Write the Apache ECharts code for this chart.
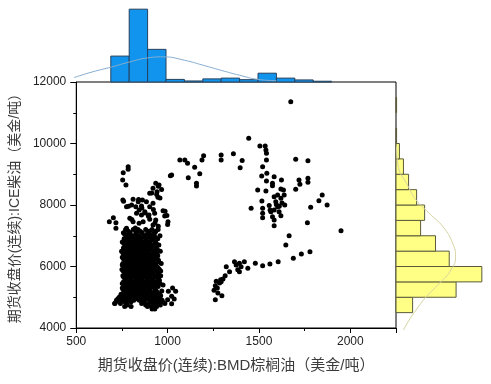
<!DOCTYPE html>
<html>
<head>
<meta charset="utf-8">
<script src="https://cdn.jsdelivr.net/npm/echarts@6/dist/echarts.min.js"></script>
<style>
html,body{margin:0;padding:0;background:#fff;}
#main{width:491px;height:384px;}
</style>
</head>
<body>
<div id="main"></div>
<script>
// ---------- data ----------
const xTicks = [500, 1000, 1500, 2000];
const yTicks = [4000, 6000, 8000, 10000, 12000];

// top histogram (BMD palm oil), bin width 100
const topBinWidth = 100;
const topBinStart = [700, 800, 900, 1000, 1100, 1200, 1300, 1400, 1500, 1600, 1700, 1800];
const topCounts   = [100, 281, 126, 10, 4, 12, 15, 9, 34, 15, 8, 3];
// fitted curve
const topCurveX = [500, 600, 705, 800, 900, 985, 1100, 1200, 1300, 1400, 1500, 1600];
const topCurveY = [17, 39, 58, 77, 93, 97, 84, 65, 45, 26, 10, 5];

// right histogram (ICE gasoil), bin width 500
const rightBinWidth = 500;
const rightBinStart = [4500, 5000, 5500, 6000, 6500, 7000, 7500, 8000, 8500, 9000, 9500, 10000, 11000];
const rightCounts   = [29, 105, 150, 93, 69, 43, 50, 36, 22, 13, 6, 1, 1];
const rightCurveY = [9900, 9356, 8543, 8163, 7730, 7294, 6754, 6319, 5886, 5454, 5018, 4585, 4260, 3935];
const rightCurveX = [1, 3, 23, 35, 58, 82, 99, 104, 96, 76, 53, 35, 23, 13];

// scatter: dense lower cluster rows [y, xs]
const clusterRows = [
  [7200, [770, 812, 838, 880, 915, 948]],
  [7150, [785, 850, 900, 935]],
  [7100, [758, 795, 826, 861, 893, 930]],
  [7050, [765, 790, 830, 888, 920]],
  [7000, [775, 808, 845, 872, 905, 958]],
  [6950, [780, 808, 836, 866, 900, 932]],
  [6900, [762, 790, 822, 850, 884, 920, 946]],
  [6850, [766, 796, 826, 854, 882, 912]],
  [6800, [752, 780, 812, 838, 868, 897, 933]],
  [6750, [760, 786, 815, 845, 874, 904, 938]],
  [6700, [768, 800, 829, 857, 890, 915, 952]],
  [6650, [772, 802, 832, 860, 888, 920]],
  [6600, [758, 786, 815, 846, 874, 903, 938]],
  [6550, [762, 790, 820, 848, 876, 910, 944]],
  [6500, [748, 774, 804, 833, 862, 888, 925, 960]],
  [6450, [755, 778, 806, 835, 864, 895, 928]],
  [6400, [762, 792, 820, 850, 878, 910, 942]],
  [6350, [768, 795, 824, 852, 882, 912, 946]],
  [6300, [752, 780, 808, 838, 866, 896, 928]],
  [6250, [758, 786, 815, 844, 872, 902, 935]],
  [6200, [768, 796, 826, 855, 884, 915, 950]],
  [6150, [770, 798, 828, 856, 886, 918, 952]],
  [6100, [755, 784, 812, 842, 870, 900, 935, 965]],
  [6050, [752, 776, 805, 834, 862, 892, 922]],
  [6000, [762, 790, 820, 848, 878, 906, 940]],
  [5950, [768, 796, 826, 855, 884, 915, 948]],
  [5900, [750, 778, 805, 835, 864, 892, 925, 955]],
  [5850, [757, 786, 814, 842, 872, 900, 932, 962]],
  [5800, [764, 795, 824, 852, 880, 912, 945]],
  [5750, [770, 800, 830, 860, 888, 918, 950]],
  [5700, [755, 783, 812, 840, 870, 900, 930, 962]],
  [5650, [760, 788, 818, 846, 876, 906, 938]],
  [5600, [768, 798, 828, 856, 886, 916, 948]],
  [5550, [772, 802, 830, 858, 890, 920, 955]],
  [5500, [758, 786, 815, 844, 872, 903, 935]],
  [5450, [752, 780, 808, 836, 866, 895, 925, 958]],
  [5400, [765, 792, 822, 850, 880, 910, 942, 975]],
  [5350, [766, 795, 825, 852, 882, 914, 948]],
  [5300, [752, 780, 808, 838, 866, 896, 928]],
  [5250, [756, 784, 812, 842, 870, 900, 932]],
  [5200, [762, 790, 818, 848, 876, 905, 938, 968]],
  [5150, [768, 798, 826, 856, 886, 914, 945]],
  [5100, [745, 775, 803, 832, 862, 892, 922, 955]],
  [5050, [750, 782, 810, 840, 868, 898, 930, 962]],
  [5000, [735, 765, 795, 825, 852, 882, 912, 945]],
  [4950, [728, 760, 790, 830, 862, 890, 920, 952]],
  [4900, [720, 752, 782, 815, 845, 875, 905, 935, 970]],
  [4850, [736, 766, 800, 870, 910, 942, 970]],
  [4800, [710, 742, 775, 858, 895, 925, 955, 985]],
  [4750, [780, 880, 925, 960]],
  [4700, [765, 800, 890, 912, 940]],
  [4620, [915, 930]]
];
const upperClusterPts = [
  [784,9246],[784,9161],[757,9051],[754,8813],[772,8650],[1015,8953],[935,8706],[953,8650],
  [920,8543],[942,8433],[902,8380],[947,8250],[755,8163],[811,8186],[839,8108],[862,8163],
  [884,8108],[803,8000],[775,7945],[826,7945],[857,7967],[902,7945],[920,8055],[844,7837],
  [875,7782],[830,7730],[857,7675],[898,7675],[929,7730],[975,7815],[984,7642],[1002,7457],
  [902,7535],[866,7457],[811,7457],[793,7567],[703,7587],[681,7457],[717,7425],[717,7242],
  [935,7512],[920,7350],[844,7405],[775,7242],[759,8123],[786,7960],[841,8177],[859,7906],
  [877,7743],[895,7635],[922,7852],[931,7418],[949,7309],[804,7526],[823,7255],[967,8503],
  [949,8611],[940,8340],[913,8394],[958,8231],[996,7657],[1000,7364],[986,7798]
];
const sideClusterPts = [
  [1004,5194],[1027,5302],[1044,5194],[1022,5031],[1000,4922],[1022,4792],[1036,4944],
  [712,4803],[730,4911],[757,5073]
];
const arcPts = [
  [1067,9463],[1094,9463],[1109,9355],[1148,9225],[1197,9604],[1188,9463],[1176,9018],
  [1113,8888],[1158,8706],[1158,8620],[1293,9626],[1293,9463],[1360,9669],[1408,9447],
  [1397,9214],[1444,10170],[1022,8976]
];
const rightGroupPts = [
  [1674,11359],[1505,9919],[1534,9919],[1538,9789],[1541,9680],[1541,9463],[1520,9246],
  [1701,9485],[1768,9441],[1543,9030],[1515,8943],[1583,8920],[1541,8780],[1574,8706],
  [1574,8630],[1623,8813],[1719,8813],[1724,8673],[1768,8869],[1768,8738],[1701,8510],
  [1493,8488],[1538,8455],[1620,8520],[1634,8488],[1602,8325],[1583,8271],[1638,8325],
  [1641,8000],[1620,8217],[1592,8108],[1602,7945],[1583,7837],[1610,7782],[1565,7782],
  [1457,7892],[1516,8130],[1520,7892],[1520,7730],[1520,7587],[1561,7837],[1574,7620],
  [1583,7512],[1620,7653],[1783,7930],[1828,8140],[1846,8325],[1873,8000],[1765,7425],
  [1556,7984],[1583,7327],[1611,7960],[1626,8069],[1595,8015]
];
const lowerCurvePts = [
  [1949,7165],[1665,7002],[1647,6699],[1779,6481],[1732,6407],[1688,6267],[1605,6156],
  [1560,6081],[1520,6026],[1480,6104],[1439,5941],[1420,6156],[1393,6104],[1402,5993],
  [1375,6049],[1366,6156],[1393,5832],[1384,5897],[1339,5832],[1321,5993],[1315,5701],
  [1303,5593],[1293,5506],[1297,5051],[1261,5378],[1272,5302],[1261,4922],[1254,5226],
  [1275,5139],[1290,5573],[1266,5519],[1284,5465]
];

// ---------- build ----------
const clusterPts = [];
clusterRows.forEach(r => r[1].forEach(x => clusterPts.push([x, r[0]])));
const scatterData = clusterPts.concat(upperClusterPts, sideClusterPts, arcPts, rightGroupPts, lowerCurvePts);

const topHistData = topBinStart.map((s, i) => [s, s + topBinWidth, topCounts[i]]);
const rightHistData = rightBinStart.map((s, i) => [s, s + rightBinWidth, rightCounts[i]]);
const topCurveData = topCurveX.map((x, i) => [x, topCurveY[i]]);
const rightCurveData = rightCurveY.map((y, i) => [rightCurveX[i], y]);

const FONT = "'Liberation Sans', Arial, 'Noto Sans CJK SC', sans-serif";
const plain = v => String(v);

const chart = echarts.init(document.getElementById('main'), null, {renderer: 'canvas'});
chart.setOption({
  animation: false,
  backgroundColor: '#fff',
  textStyle: {fontFamily: FONT},
  grid: [
    {left: 74, top: 82, width: 322, height: 246, show: true, borderColor: '#000', borderWidth: 1, containLabel: false},
    {left: 74, top: 4, width: 322, height: 78, containLabel: false},
    {left: 396, top: 82, width: 95, height: 246, containLabel: false}
  ],
  xAxis: [
    {
      gridIndex: 0, type: 'value', min: 500, max: 2250, interval: 500,
      name: '期货收盘价(连续):BMD棕榈油（美金/吨）', nameLocation: 'middle', nameGap: 30,
      nameTextStyle: {fontSize: 15, color: '#3c3c3c', fontFamily: FONT},
      axisLine: {show: true, lineStyle: {color: '#000', width: 1}},
      axisTick: {show: true, inside: false, length: 5, lineStyle: {color: '#000'}},
      minorTick: {show: true, splitNumber: 2, length: 3, lineStyle: {color: '#000'}},
      axisLabel: {fontSize: 12, color: '#222', margin: 8, showMaxLabel: false, fontFamily: FONT, formatter: plain},
      splitLine: {show: false}
    },
    {gridIndex: 1, type: 'value', min: 500, max: 2250, show: false},
    {gridIndex: 2, type: 'value', min: 0, max: 166, show: false}
  ],
  yAxis: [
    {
      gridIndex: 0, type: 'value', min: 4000, max: 12000, interval: 2000,
      name: '期货收盘价(连续):ICE柴油（美金/吨）', nameLocation: 'middle', nameGap: 48,
      nameTextStyle: {fontSize: 14, color: '#3c3c3c', fontFamily: FONT},
      axisLine: {show: true, lineStyle: {color: '#000', width: 1}},
      axisTick: {show: true, inside: false, length: 6, lineStyle: {color: '#000'}},
      minorTick: {show: true, splitNumber: 2, length: 3, lineStyle: {color: '#000'}},
      axisLabel: {fontSize: 12, color: '#222', margin: 10, fontFamily: FONT, formatter: plain},
      splitLine: {show: false}
    },
    {gridIndex: 1, type: 'value', min: 0, max: 301, show: false},
    {gridIndex: 2, type: 'value', min: 4000, max: 12000, show: false}
  ],
  series: [
    {
      type: 'custom', xAxisIndex: 1, yAxisIndex: 1,
      encode: {x: [0, 1], y: 2},
      data: topHistData,
      renderItem: function (params, api) {
        const p0 = api.coord([api.value(0), 0]);
        const p1 = api.coord([api.value(1), api.value(2)]);
        return {
          type: 'rect',
          shape: {x: p0[0], y: p1[1], width: p1[0] - p0[0], height: p0[1] - p1[1]},
          style: {fill: '#1094ee', stroke: '#27425e', lineWidth: 1}
        };
      }
    },
    {
      type: 'line', xAxisIndex: 1, yAxisIndex: 1, data: topCurveData,
      smooth: true, symbol: 'none', clip: false,
      lineStyle: {color: '#86aed0', width: 1}, z: 5
    },
    {
      type: 'custom', xAxisIndex: 2, yAxisIndex: 2,
      encode: {x: 2, y: [0, 1]},
      data: rightHistData,
      renderItem: function (params, api) {
        const p0 = api.coord([0, api.value(0)]);
        const p1 = api.coord([api.value(2), api.value(1)]);
        return {
          type: 'rect',
          shape: {x: p0[0], y: p1[1], width: p1[0] - p0[0], height: p0[1] - p1[1]},
          style: {fill: '#ffff85', stroke: '#5a5a3a', lineWidth: 1}
        };
      }
    },
    {
      type: 'line', xAxisIndex: 2, yAxisIndex: 2, data: rightCurveData,
      smooth: true, symbol: 'none', clip: false,
      lineStyle: {color: '#d6d3a2', width: 1}, z: 5
    },
    {
      type: 'scatter', xAxisIndex: 0, yAxisIndex: 0, data: scatterData,
      symbol: 'circle', symbolSize: 5,
      itemStyle: {color: '#000', opacity: 1}
    }
  ]
});
</script>
</body>
</html>
